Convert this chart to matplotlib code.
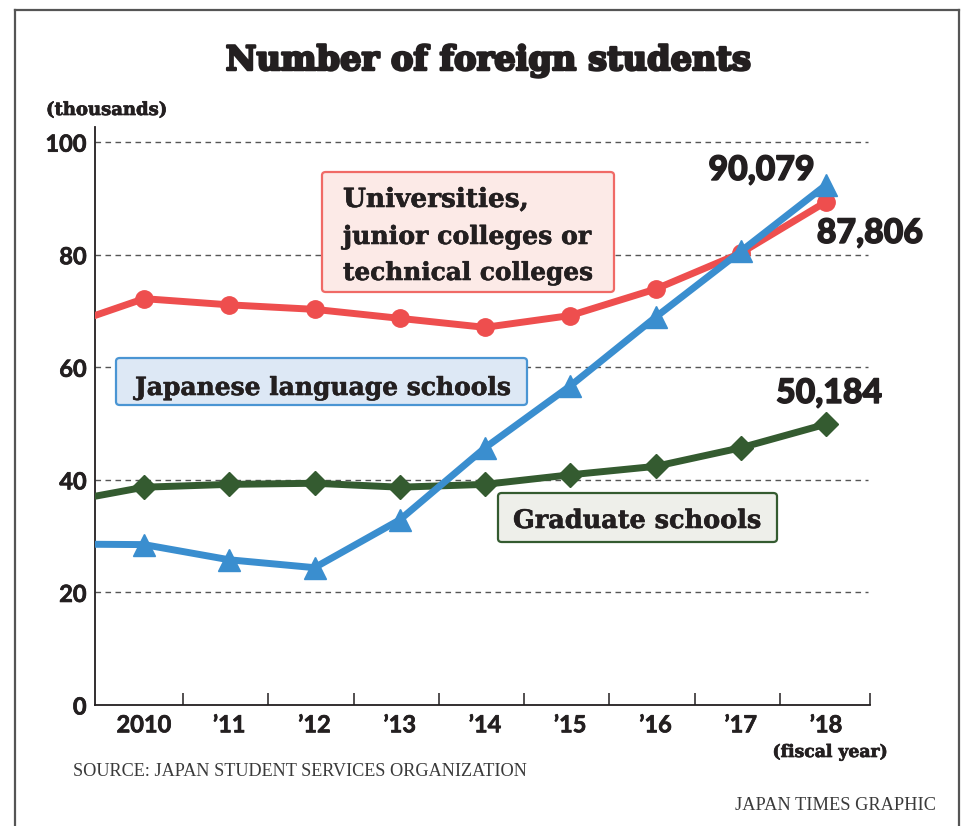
import matplotlib
matplotlib.use("Agg")
import matplotlib.pyplot as plt
from matplotlib.patches import FancyBboxPatch
from matplotlib.lines import Line2D
import matplotlib.patheffects as pe

# ---------------- data (thousands of students) ----------------
years = [2009, 2010, 2011, 2012, 2013, 2014, 2015, 2016, 2017, 2018]
univ = [67.0, 72.2, 71.1, 70.3, 68.7, 67.1, 69.2, 73.9, 80.3, 89.4]
lang = [28.6, 28.5, 25.8, 24.4, 32.9, 45.7, 56.7, 68.9, 80.6, 92.4]
grad = [35.9, 38.7, 39.2, 39.4, 38.7, 39.2, 40.9, 42.4, 45.7, 49.9]

label_years = [2010, 2011, 2012, 2013, 2014, 2015, 2016, 2017, 2018]
xtick_labels = ["2010", "\u201911", "\u201912", "\u201913", "\u201914",
                "\u201915", "\u201916", "\u201917", "\u201918"]
yticks = [0, 20, 40, 60, 80, 100]

end_labels = ["90,079", "87,806", "50,184"]
series_names = ["Universities,\njunior colleges or\ntechnical colleges",
                "Japanese language schools", "Graduate schools"]

title = "Number of foreign students"
unit = "(thousands)"
xunit = "(fiscal year)"
source = "SOURCE: JAPAN STUDENT SERVICES ORGANIZATION"
credit = "JAPAN TIMES GRAPHIC"

# ---------------- style ----------------
RED = "#EE4E4E"
BLUE = "#3A8ECF"
GREEN = "#345B30"
TXT = "#231F20"

W, H = 961, 826
fig = plt.figure(figsize=(W / 100, H / 100), dpi=100)
fig.patch.set_facecolor("white")


def fx(x):
    return x / W


def fy(y):
    return 1 - y / H


ax_l, ax_r, ax_t, ax_b = 95, 870, 127, 705
ax = fig.add_axes([fx(ax_l), fy(ax_b), fx(ax_r - ax_l), (ax_b - ax_t) / H])
ax.set_xlim(2009.425, 2018.516)
ax.set_ylim(0, 102.7)

for s in ["top", "right"]:
    ax.spines[s].set_visible(False)
for s in ["left", "bottom"]:
    ax.spines[s].set_color(TXT)
    ax.spines[s].set_linewidth(1.3)

# grid lines
for v in yticks[1:]:
    ax.plot([2009.425, 2018.49], [v, v], color="#555555", lw=1.0,
            ls=(0, (4, 3.2)), zorder=1, clip_on=False)

ax.set_yticks(yticks)
ax.set_yticklabels([str(v) for v in yticks])
ax.tick_params(axis="y", length=0, pad=6, labelsize=17, labelcolor=TXT)

# x: major ticks at boundaries (no labels), minor (no marks) carry labels
bounds = [y + 0.46 for y in label_years[:-1]] + [2018.516]
ax.set_xticks(bounds)
ax.set_xticklabels([""] * len(bounds))
ax.tick_params(axis="x", which="major", direction="in", length=9, width=1.1,
               color=TXT)
ax.set_xticks(label_years, minor=True)
ax.set_xticklabels(xtick_labels, minor=True)
ax.tick_params(axis="x", which="minor", length=0, pad=6, labelsize=17,
               labelcolor=TXT)
for lab in ax.get_xticklabels(minor=True) + ax.get_yticklabels():
    lab.set_fontfamily(["Lato", "DejaVu Sans"])
    lab.set_fontweight("bold")
    lab.set_path_effects([pe.withStroke(linewidth=0.5, foreground=TXT)])

# series
ax.plot(years, grad, color=GREEN, lw=5, marker="D", ms=12, zorder=3,
        solid_capstyle="butt")
ax.plot(years, univ, color=RED, lw=5, marker="o", ms=12.5, zorder=4,
        solid_capstyle="butt")
ax.plot(years, lang, color=BLUE, lw=5, marker="^", ms=16, zorder=5,
        solid_capstyle="butt")

renderer = fig.canvas.get_renderer()


def fit(t, target_w):
    bb = t.get_window_extent(renderer)
    t.set_fontsize(t.get_fontsize() * target_w / bb.width)


def ftext(x, y, s, target_w=None, stroke=0.0, **kw):
    t = fig.text(fx(x), fy(y), s, **kw)
    if target_w:
        fit(t, target_w)
    if stroke:
        t.set_path_effects([pe.withStroke(linewidth=stroke,
                                          foreground=kw.get("color", TXT))])
    return t


# boxes
def box(x0, y0, x1, y1, fc, ec):
    p = FancyBboxPatch((fx(x0), fy(y1)), fx(x1 - x0), (y1 - y0) / H,
                       boxstyle="round,pad=0,rounding_size=0.004",
                       transform=fig.transFigure, fc=fc, ec=ec, lw=1.6,
                       zorder=6)
    fig.add_artist(p)


serif = ["DejaVu Serif"]
box(322, 172, 614, 292, "#FCEAE7", "#F06A66")
uni_lines = series_names[0].split("\n")
for s, yb, w in zip(uni_lines, [207, 244, 280], [186, 248, 250]):
    ftext(343, yb, s, w, stroke=0.4, family=serif, weight="bold", color=TXT,
          va="baseline", ha="left", fontsize=18, zorder=7)

box(116, 358, 527, 405, "#DDE8F5", "#4A95D3")
ftext(135, 395, series_names[1], 376, stroke=0.4, family=serif, weight="bold",
      color=TXT, va="baseline", ha="left", fontsize=18, zorder=7)

box(498, 493, 777, 542, "#EEEFEA", GREEN)
ftext(513, 528, series_names[2], 248, stroke=0.4, family=serif, weight="bold",
      color=TXT, va="baseline", ha="left", fontsize=18, zorder=7)

# end value labels
for s, xc, yb in zip(end_labels, [761.5, 870, 829], [180, 243, 403]):
    ftext(xc, yb, s, 106, stroke=1.0, family=["Lato", "DejaVu Sans"],
          weight="black", color=TXT, ha="center", va="baseline", fontsize=24,
          zorder=7)

# title etc.
ftext(488, 70, title, 526, stroke=1.8, family=serif, weight="bold",
      color=TXT, ha="center", va="baseline", fontsize=24)
ftext(46, 115, unit, 121, stroke=0.5, family=serif, weight="bold", color=TXT,
      ha="left", va="baseline", fontsize=12)
ftext(888, 757, xunit, 115, stroke=0.5, family=serif, weight="bold",
      color=TXT, ha="right", va="baseline", fontsize=12)
ftext(73, 776, source, 452, family=["Liberation Serif"], color="#3a3a3a",
      ha="left", va="baseline", fontsize=12)
ftext(936, 810, credit, 199, family=["Liberation Serif"], color="#3a3a3a",
      ha="right", va="baseline", fontsize=12)

# outer frame
for xs, ys in [([15, 15], [10, H]), ([15, 959], [10, 10]),
               ([959, 959], [10, H])]:
    fig.add_artist(Line2D([fx(v) for v in xs], [fy(v) for v in ys],
                          transform=fig.transFigure, color="#555555", lw=1.6))

fig.savefig("out.png", dpi=100, facecolor="white")
